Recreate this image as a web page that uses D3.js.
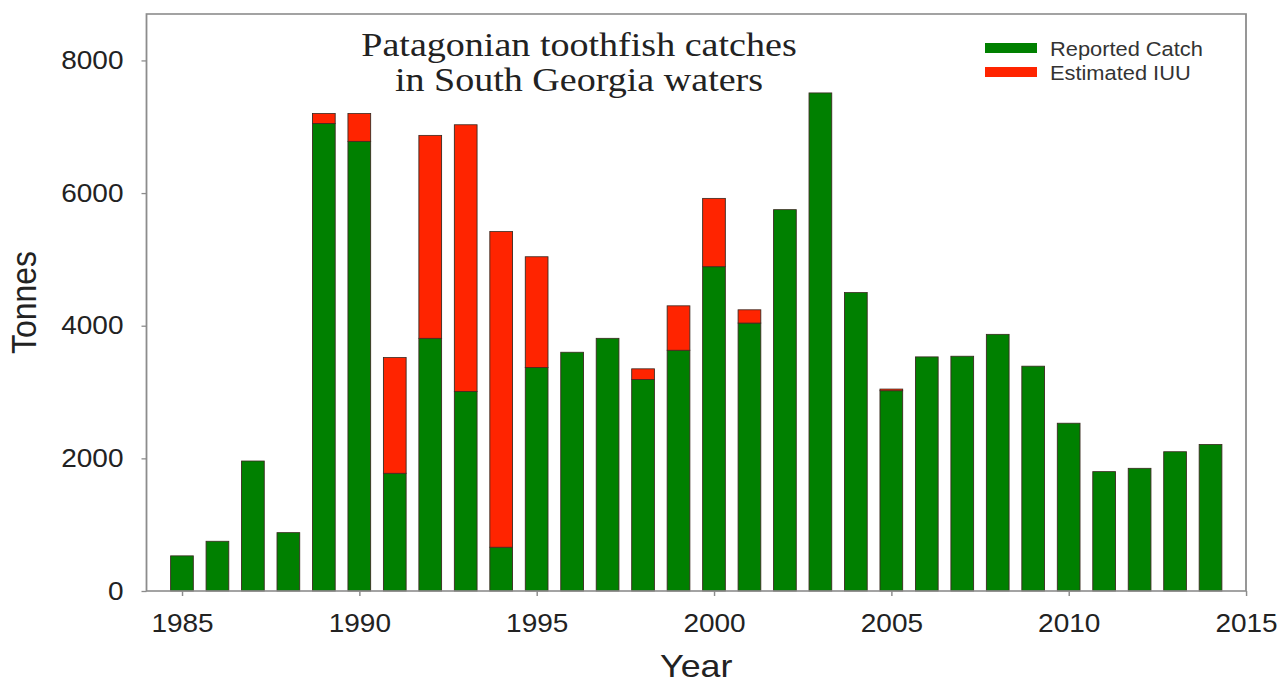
<!DOCTYPE html>
<html>
<head>
<meta charset="utf-8">
<script src="https://cdn.jsdelivr.net/npm/d3@7"></script>
<style>
  html, body { margin: 0; padding: 0; background: #fff; }
  svg { display: block; }
</style>
</head>
<body>
<div id="chart"></div>
<script>
// ---------------------------
// DATA
// ---------------------------
const years = d3.range(1985, 2015);
const reportedCatch = [530, 750, 1960, 880, 7050, 6780, 1775, 3810, 3010, 660,
                       3370, 3600, 3810, 3190, 3630, 4890, 4040, 5750, 7510, 4500,
                       3020, 3530, 3540, 3870, 3390, 2530, 1800, 1850, 2100, 2210];
const estimatedIUU  = [0, 0, 0, 0, 150, 420, 1745, 3060, 4020, 4760,
                       1670, 0, 0, 160, 670, 1030, 200, 0, 0, 0,
                       25, 0, 0, 0, 0, 0, 0, 0, 0, 0];
const seriesKeys   = ["reported", "iuu"];
const seriesLabels = ["Reported Catch", "Estimated IUU"];
const seriesColors = ["#008000", "#ff2400"];
const yTicks = [0, 2000, 4000, 6000, 8000];
const xTicks = [1985, 1990, 1995, 2000, 2005, 2010, 2015];
const titleLines = ["Patagonian toothfish catches", "in South Georgia waters"];

// ---------------------------
// LAYOUT
// The reference is slightly stretched horizontally, so draw in a narrower
// space and let the viewBox stretch it back out.
// ---------------------------
const W = 1286, H = 684;
const SX = 1.12;
const sx = px => px / SX;   // real pixels -> drawing units (x only)

const plot = { left: 146.5, right: 1246, top: 14, bottom: 591 };

const svg = d3.select("#chart")
  .append("svg")
  .attr("width", W)
  .attr("height", H)
  .attr("viewBox", `0 0 ${W / SX} ${H}`)
  .attr("preserveAspectRatio", "none");

// ---------------------------
// SCALES
// ---------------------------
const x = d3.scaleLinear()
  .domain([1984, 2015])
  .range([sx(plot.left), sx(plot.right)]);

const y = d3.scaleLinear()
  .domain([0, 8700])
  .range([plot.bottom, plot.top]);

const step = x(1986) - x(1985);
const barW = step * 0.64;

// ---------------------------
// STACKED BARS
// ---------------------------
const table = years.map((yr, i) => ({ year: yr, reported: reportedCatch[i], iuu: estimatedIUU[i] }));
const stacked = d3.stack().keys(seriesKeys)(table);

svg.append("g")
  .selectAll("g")
  .data(stacked)
  .join("g")
  .attr("fill", (d, i) => seriesColors[i])
  .selectAll("rect")
  .data(d => d.filter(s => s[1] > s[0]))
  .join("rect")
  .attr("x", d => x(d.data.year) - barW / 2)
  .attr("y", d => y(d[1]))
  .attr("width", barW)
  .attr("height", d => y(d[0]) - y(d[1]))
  .attr("stroke", "#3a2a20")
  .attr("stroke-width", 0.8);

// ---------------------------
// AXES
// ---------------------------
const axisFont = "'Liberation Sans', Arial, sans-serif";

const yAxis = svg.append("g")
  .attr("transform", `translate(${x.range()[0]},0)`)
  .call(d3.axisLeft(y).tickValues(yTicks).tickSize(sx(5)).tickPadding(sx(18)).tickFormat(d3.format("d")));

const xAxis = svg.append("g")
  .attr("transform", `translate(0,${plot.bottom})`)
  .call(d3.axisBottom(x).tickValues(xTicks).tickSize(5).tickPadding(18).tickFormat(d3.format("d")));

[yAxis, xAxis].forEach(a => {
  a.select(".domain").remove();
  a.selectAll(".tick line").attr("stroke", "#8c8c8c").attr("stroke-width", 1.3);
  a.selectAll(".tick text")
    .attr("fill", "#222")
    .style("font-family", axisFont)
    .style("font-size", "25px");
});

// plot frame
svg.append("rect")
  .attr("x", x.range()[0])
  .attr("y", plot.top)
  .attr("width", x.range()[1] - x.range()[0])
  .attr("height", plot.bottom - plot.top)
  .attr("fill", "none")
  .attr("stroke", "#8c8c8c")
  .attr("stroke-width", 1.6);

// axis titles
svg.append("text")
  .attr("x", sx((plot.left + plot.right) / 2))
  .attr("y", 677)
  .attr("text-anchor", "middle")
  .attr("fill", "#222")
  .style("font-family", axisFont)
  .style("font-size", "32px")
  .text("Year");

svg.append("text")
  .attr("transform", `translate(${sx(36)},${(plot.top + plot.bottom) / 2}) rotate(-90)`)
  .attr("text-anchor", "middle")
  .attr("fill", "#222")
  .style("font-family", axisFont)
  .style("font-size", "32px")
  .text("Tonnes");

// ---------------------------
// TITLE
// ---------------------------
svg.append("g")
  .selectAll("text")
  .data(titleLines)
  .join("text")
  .attr("x", sx(579))
  .attr("y", (d, i) => 56 + i * 35)
  .attr("text-anchor", "middle")
  .attr("fill", "#222")
  .style("font-family", "'Liberation Serif', 'Times New Roman', serif")
  .style("font-size", "34px")
  .text(d => d);

// ---------------------------
// LEGEND
// ---------------------------
const legend = svg.append("g")
  .attr("transform", `translate(${sx(985)},43)`);

const legendItems = legend.selectAll("g")
  .data(seriesLabels)
  .join("g")
  .attr("transform", (d, i) => `translate(0,${i * 24})`);

legendItems.append("rect")
  .attr("width", sx(52))
  .attr("height", 10)
  .attr("fill", (d, i) => seriesColors[i]);

legendItems.append("text")
  .attr("x", sx(65))
  .attr("y", 13)
  .attr("fill", "#333")
  .style("font-family", axisFont)
  .style("font-size", "19.5px")
  .text(d => d);
</script>
</body>
</html>
